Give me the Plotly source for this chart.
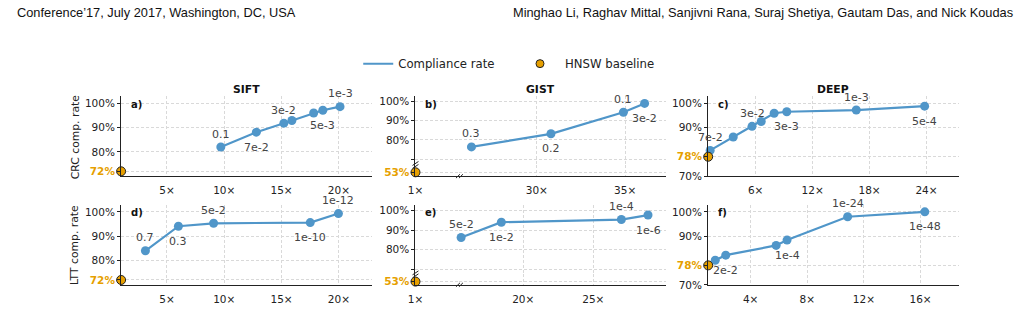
import plotly.graph_objects as go

W, H = 1021, 329

# ---------------- data ----------------
baseline_x = 1
sift_crc_x = [9.7, 12.8, 15.2, 15.9, 17.8, 18.6, 20.1]
sift_crc_y = [82.0, 88.1, 91.8, 92.9, 96.0, 97.1, 98.6]
sift_crc_lbl = ['0.1', '7e-2', '3e-2', '', '', '5e-3', '1e-3']
sift_base = 72

gist_crc_x = [26.3, 30.8, 34.9, 36.1]
gist_crc_y = [76.4, 83.2, 94.4, 99.0]
gist_crc_lbl = ['0.3', '0.2', '0.1', '3e-2']
gist_base = 53

deep_crc_x = [1.21, 3.64, 5.62, 6.59, 7.95, 9.28, 16.6, 23.8]
deep_crc_y = [80.6, 86.1, 90.5, 92.5, 95.9, 96.5, 97.2, 98.8]
deep_crc_lbl = ['7e-2', '', '3e-2', '', '', '3e-3', '1e-3', '5e-4']
deep_base = 78

sift_ltt_x = [3.12, 6.0, 9.07, 17.5, 19.96]
sift_ltt_y = [84.0, 94.1, 95.3, 95.6, 99.3]
sift_ltt_lbl = ['0.7', '0.3', '5e-2', '1e-10', '1e-12']

gist_ltt_x = [15.57, 18.44, 27.0, 28.9]
gist_ltt_y = [86.2, 94.0, 95.35, 97.65]
gist_ltt_lbl = ['5e-2', '1e-2', '1e-4', '1e-6']

deep_ltt_x = [1.5, 2.24, 5.8, 6.57, 10.85, 16.3]
deep_ltt_y = [80.1, 82.2, 86.2, 88.4, 98.0, 100.0]
deep_ltt_lbl = ['', '2e-2', '', '1e-4', '1e-24', '1e-48']

# label placement (style): 't' above, 'b' below
place = {
    'a': ['t', 'b', 't', '', '', 'b', 't'],
    'b': ['t', 'b', 't', 'b'],
    'c': ['t', '', 't', '', '', 'b', 't', 'b'],
    'd': ['t', 'b', 't', 'b', 't'],
    'e': ['t', 'b', 't', 'b'],
    'f': ['', 'b', '', 'b', 't', 'b'],
}

BLUE = '#5096c9'
ORANGE = '#e69f00'
SPINE = '#222222'
GRID = '#d9d9d9'
FONT = 'DejaVu Sans'


def X(p):
    return p / W


def Y(p):
    return 1 - p / H


def orange_tick(v):
    return f'<span style="color:{ORANGE}"><b>{v}%</b></span>'


fig = go.Figure()
ann = []
shapes = []

base_axis = dict(showline=True, linecolor=SPINE, linewidth=1.2, mirror=False,
                 showgrid=True, gridcolor=GRID, gridwidth=0.8, griddash='3px,2px',
                 zeroline=False, tickfont=dict(family=FONT, size=10.5, color='#222'))


def xax(domain, rng, vals, anchor):
    d = dict(base_axis)
    d.update(domain=[X(domain[0]), X(domain[1])], range=rng, tickmode='array',
             tickvals=vals, ticktext=[f'{v}×' for v in vals], ticks='', anchor=anchor,
             ticklabelstandoff=4)
    return d


def yax(domain, rng, vals, texts, anchor):
    d = dict(base_axis)
    d.update(domain=[Y(domain[1]), Y(domain[0])], range=rng, tickmode='array',
             tickvals=vals, ticktext=texts, ticks='outside', ticklen=3,
             tickcolor=SPINE, anchor=anchor)
    return d


def add_series(xs, ys, lbls, plc, xa, ya):
    fig.add_trace(go.Scatter(x=xs, y=ys, mode='lines+markers', xaxis=xa, yaxis=ya,
                             line=dict(color=BLUE, width=2.2),
                             marker=dict(color=BLUE, size=9), showlegend=False,
                             cliponaxis=False, hoverinfo='skip'))
    for x, y, t, p in zip(xs, ys, lbls, plc):
        if not t:
            continue
        ann.append(dict(x=x, y=y, xref=xa, yref=ya, text=t, showarrow=False,
                        xanchor='center', yanchor='middle',
                        yshift=13 if p == 't' else -15,
                        font=dict(family=FONT, size=11, color='#444')))


def add_base(yv, xa, ya):
    fig.add_trace(go.Scatter(x=[baseline_x], y=[yv], mode='markers', xaxis=xa, yaxis=ya,
                             marker=dict(color=ORANGE, size=9,
                                         line=dict(color='#222', width=1)),
                             showlegend=False, cliponaxis=False, hoverinfo='skip'))


def empty(xa, ya):
    fig.add_trace(go.Scatter(x=[None], y=[None], xaxis=xa, yaxis=ya, mode='markers',
                             showlegend=False, hoverinfo='skip'))


# column / row pixel geometry
colA = (114, 367)
colB = (410.7, 663)
colC = (705.7, 958.3)
brk_x = 455
row1 = (97.5, 179)
row2 = (208.5, 290)
brk1 = 167.5
brk2 = 279.3

layout = {}
ticks_a = [sift_base, 80, 90, 100]
txt_a = [orange_tick(sift_base), '80%', '90%', '100%']
ticks_c = [70, deep_base, 90, 100]
txt_c = ['70%', orange_tick(deep_base), '90%', '100%']

# panel a
layout['xaxis'] = xax(colA, [1, 22.9], [5, 10, 15, 20], 'y')
layout['yaxis'] = yax(row1, [70, 102.8], ticks_a, txt_a, 'x')
add_series(sift_crc_x, sift_crc_y, sift_crc_lbl, place['a'], 'x', 'y')
add_base(sift_base, 'x', 'y')
# panel c
layout['xaxis2'] = xax(colC, [1, 27.4], [6, 12, 18, 24], 'y2')
layout['yaxis2'] = yax(row1, [70, 102.8], ticks_c, txt_c, 'x2')
add_series(deep_crc_x, deep_crc_y, deep_crc_lbl, place['c'], 'x2', 'y2')
add_base(deep_base, 'x2', 'y2')
# panel d
layout['xaxis3'] = xax(colA, [1, 22.9], [5, 10, 15, 20], 'y3')
layout['yaxis3'] = yax(row2, [70, 102.8], ticks_a, txt_a, 'x3')
add_series(sift_ltt_x, sift_ltt_y, sift_ltt_lbl, place['d'], 'x3', 'y3')
add_base(sift_base, 'x3', 'y3')
# panel f
layout['xaxis4'] = xax(colC, [1, 18.7], [4, 8, 12, 16], 'y4')
layout['yaxis4'] = yax(row2, [70, 102.8], ticks_c, txt_c, 'x4')
add_series(deep_ltt_x, deep_ltt_y, deep_ltt_lbl, place['f'], 'x4', 'y4')
add_base(deep_base, 'x4', 'y4')

# panel b (broken axes)
layout['xaxis5'] = xax((colB[0], brk_x), [1, 3.5], [1], 'y5')
layout['xaxis6'] = xax((brk_x, colB[1]), [25.62, 37.3], [30, 35], 'y5')
layout['yaxis5'] = yax((brk1, row1[1]), [51, 56.8], [gist_base], [orange_tick(gist_base)], 'x5')
layout['yaxis6'] = yax((row1[0], brk1), [67.0, 102.65], [70, 80, 90, 100],
                       ['', '80%', '90%', '100%'], 'x5')
add_series(gist_crc_x, gist_crc_y, gist_crc_lbl, place['b'], 'x6', 'y6')
add_base(gist_base, 'x5', 'y5')
empty('x5', 'y6')
empty('x6', 'y5')

# panel e (broken axes)
layout['xaxis7'] = xax((colB[0], brk_x), [1, 3.5], [1], 'y7')
layout['xaxis8'] = xax((brk_x, colB[1]), [15.45, 30.17], [20, 25], 'y7')
layout['yaxis7'] = yax((brk2, row2[1]), [51.35, 56.7], [gist_base], [orange_tick(gist_base)], 'x7')
layout['yaxis8'] = yax((row2[0], brk2), [67.35, 102.75], [70, 80, 90, 100],
                       ['', '80%', '90%', '100%'], 'x7')
add_series(gist_ltt_x, gist_ltt_y, gist_ltt_lbl, place['e'], 'x8', 'y8')
add_base(gist_base, 'x7', 'y7')
empty('x7', 'y8')
empty('x8', 'y7')

# break marks
for yb in (brk1, brk2):
    for dy in (-1.5, 1.5):
        shapes.append(dict(type='line', xref='paper', yref='paper',
                           x0=X(colB[0] - 3), y0=Y(yb + dy + 2), x1=X(colB[0] + 3), y1=Y(yb + dy - 2),
                           line=dict(color=SPINE, width=1)))
for yb in (row1[1], row2[1]):
    for dx in (-1.5, 1.5):
        shapes.append(dict(type='line', xref='paper', yref='paper',
                           x0=X(brk_x + dx - 2), y0=Y(yb + 2), x1=X(brk_x + dx + 2), y1=Y(yb - 2),
                           line=dict(color=SPINE, width=1)))

# legend dummy traces (two legends for exact placement)
fig.add_trace(go.Scatter(x=[None], y=[None], mode='lines', name='Compliance rate',
                         line=dict(color=BLUE, width=2), legend='legend'))
fig.add_trace(go.Scatter(x=[None], y=[None], mode='markers', name='HNSW baseline',
                         marker=dict(color=ORANGE, size=8, line=dict(color='#222', width=1)),
                         legend='legend2'))

# titles
for t, c in (('SIFT', colA), ('GIST', colB), ('DEEP', colC)):
    ann.append(dict(x=X((c[0] + c[1]) / 2), y=Y(90.7), xref='paper', yref='paper', text=f'<b>{t}</b>',
                    showarrow=False, xanchor='center', yanchor='middle',
                    font=dict(family=FONT, size=10.8, color='#111')))
# panel letters
for t, c, r in (('a)', colA, row1), ('b)', colB, row1), ('c)', colC, row1),
                ('d)', colA, row2), ('e)', colB, row2), ('f)', colC, row2)):
    ann.append(dict(x=X(c[0] + 8), y=Y(r[0] + 8), xref='paper', yref='paper', text=f'<b>{t}</b>',
                    showarrow=False, xanchor='left', yanchor='middle',
                    font=dict(family=FONT, size=10, color='#111')))
# y titles
for t, r in (('CRC comp. rate', row1), ('LTT comp. rate', row2)):
    ann.append(dict(x=X(67.5), y=Y((r[0] + r[1]) / 2), xref='paper', yref='paper', text=t,
                    showarrow=False, textangle=-90, xanchor='center', yanchor='middle',
                    font=dict(family=FONT, size=10.8, color='#222')))
# header
hdr_font = dict(family='Liberation Sans', size=12.8, color='#111')
ann.append(dict(x=X(7), y=Y(12), xref='paper', yref='paper',
                text='Conference’17, July 2017, Washington, DC, USA', showarrow=False,
                xanchor='left', yanchor='middle', font=hdr_font))
ann.append(dict(x=X(1015), y=Y(12), xref='paper', yref='paper',
                text='Minghao Li, Raghav Mittal, Sanjivni Rana, Suraj Shetiya, Gautam Das, and Nick Koudas',
                showarrow=False, xanchor='right', yanchor='middle', font=hdr_font))

leg_common = dict(orientation='h', yanchor='middle', y=Y(64), xanchor='left',
                  font=dict(family=FONT, size=11.7, color='#222'),
                  itemwidth=30, bgcolor='rgba(0,0,0,0)')

fig.update_layout(**layout)
fig.update_layout(width=W, height=H, margin=dict(l=0, r=0, t=0, b=0),
                  paper_bgcolor='white', plot_bgcolor='white',
                  annotations=ann, shapes=shapes,
                  legend=dict(leg_common, x=X(353)),
                  legend2=dict(leg_common, x=X(511), itemwidth=40),
                  font=dict(family=FONT))

fig.write_html('out.html')
